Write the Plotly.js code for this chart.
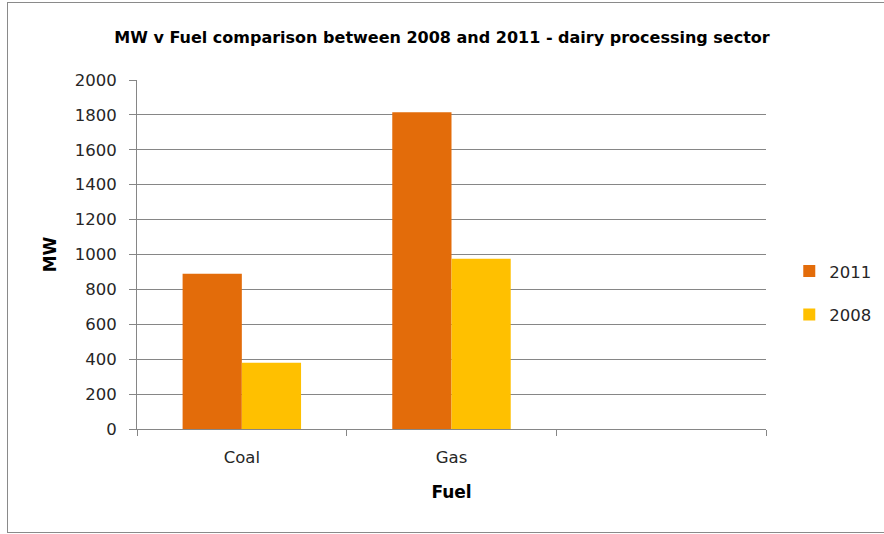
<!DOCTYPE html>
<html>
<head>
<meta charset="utf-8">
<script src="https://cdn.plot.ly/plotly-3.0.1.min.js"></script>
<style>
  html, body { margin: 0; padding: 0; background: #ffffff; }
  #wrap { position: relative; width: 884px; height: 534px; overflow: hidden; }
  #chart { position: absolute; left: 0; top: 0; width: 884px; height: 534px; }
  #frame { position: absolute; left: 7px; top: 2px; width: 900px; height: 531px;
           border: 1.5px solid #8a8a8a; pointer-events: none; box-sizing: border-box; }
</style>
</head>
<body>
<div id="wrap">
  <div id="chart"></div>
  <div id="frame"></div>
</div>
<script>
const categories = ["Coal", "Gas", " "];
const seriesNames = ["2011", "2008"];
const values2011 = [890, 1815, null];
const values2008 = [380, 975, null];
const yTickValues = [0, 200, 400, 600, 800, 1000, 1200, 1400, 1600, 1800, 2000];

const FONT = "'DejaVu Sans', Verdana, sans-serif";
const GRID = "#868686";

const traces = [
  { type: "bar", name: seriesNames[0], x: categories, y: values2011, legendgroup: "a",
    marker: { color: "#E36C0A" }, hoverinfo: "none" },
  { type: "bar", name: seriesNames[1], x: categories, y: values2008, legendgroup: "b",
    marker: { color: "#FFC000" }, hoverinfo: "none" }
];

const layout = {
  width: 884, height: 534,
  margin: { l: 137, r: 118, t: 80, b: 105, autoexpand: false },
  paper_bgcolor: "rgba(0,0,0,0)",
  plot_bgcolor: "#ffffff",
  font: { family: FONT, size: 16.5, color: "#262626" },
  title: { text: "<b>MW v Fuel comparison between 2008 and 2011 - dairy processing sector</b>",
           font: { family: FONT, size: 16, color: "#000000" },
           x: 0.5, xanchor: "center", y: 0.93, yanchor: "middle", yref: "container" },
  barmode: "group", bargap: 0.435, bargroupgap: 0,
  showlegend: true,
  legend: { x: 1.037, xanchor: "left", y: 0.39, yanchor: "middle",
            orientation: "v", traceorder: "grouped", tracegroupgap: 19,
            font: { family: FONT, size: 16.5, color: "#262626" },
            itemwidth: 30, bgcolor: "rgba(0,0,0,0)" },
  xaxis: {
    type: "category", categoryorder: "array", categoryarray: categories,
    range: [-0.5, 2.5], fixedrange: true,
    showline: true, linecolor: GRID, linewidth: 1,
    ticks: "outside", tickson: "boundaries", ticklen: 6, tickcolor: GRID,
    showgrid: false, zeroline: false,
    tickfont: { family: FONT, size: 16.5, color: "#262626" },
    ticklabelstandoff: 13,
    title: { text: "<b>Fuel</b>", font: { family: FONT, size: 17, color: "#000000" }, standoff: 20 }
  },
  yaxis: {
    range: [0, 2000], tickvals: yTickValues, fixedrange: true,
    showline: true, linecolor: GRID, linewidth: 1,
    ticks: "outside", ticklen: 7, tickcolor: GRID,
    showgrid: true, gridcolor: GRID, gridwidth: 1, zeroline: false,
    tickfont: { family: FONT, size: 16.5, color: "#262626" },
    ticklabelstandoff: 9,
    title: { text: "<b>MW</b>", font: { family: FONT, size: 17, color: "#000000" }, standoff: 13 }
  }
};

Plotly.newPlot("chart", traces, layout, { staticPlot: true, displayModeBar: false });
</script>
</body>
</html>
